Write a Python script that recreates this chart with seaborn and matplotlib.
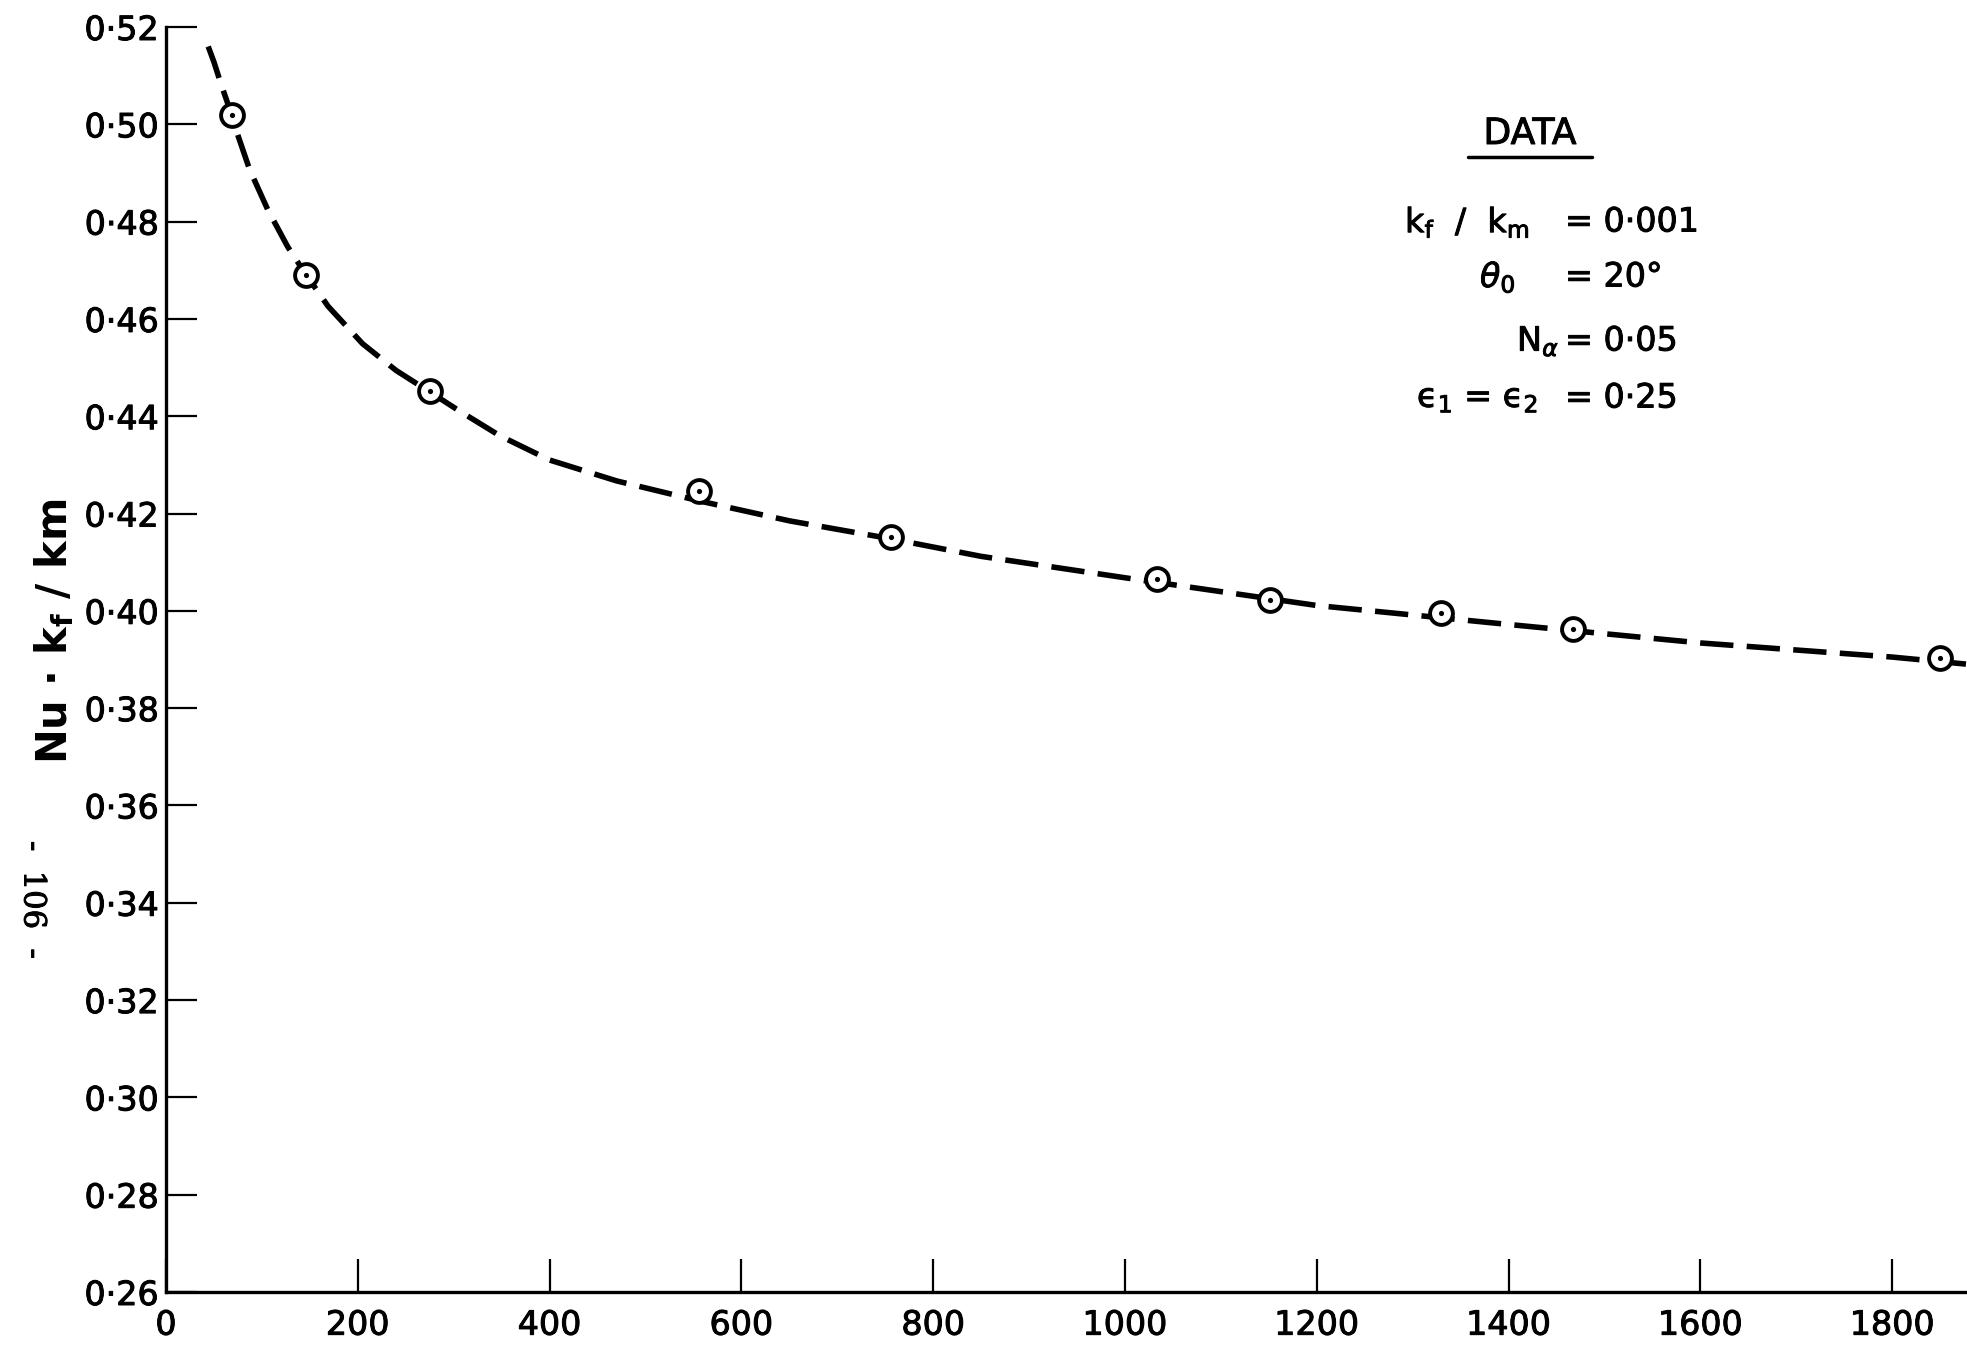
import matplotlib
matplotlib.use('Agg')
import matplotlib.pyplot as plt
import matplotlib.patheffects as pe
import seaborn as sns
import pandas as pd

# measured points (circles)
point_x = [69, 146, 275, 556, 756, 1033, 1151, 1330, 1467, 1850]
point_y = [0.5020, 0.4691, 0.4451, 0.4247, 0.4151, 0.4065, 0.4023, 0.3995, 0.3962, 0.3903]

# dashed curve
curve_x = [44, 50, 57, 64, 69, 74, 87, 106, 127, 146, 169, 205, 240, 275, 305, 348,
           400, 470, 556, 650, 756, 850, 1000, 1200, 1400, 1600, 1800, 1880]
curve_y = [0.5160, 0.5128, 0.5085, 0.5045, 0.5016, 0.4983, 0.4908, 0.4825, 0.4748,
           0.4691, 0.4626, 0.4549, 0.4494, 0.4450, 0.4412, 0.4360, 0.4310, 0.4267,
           0.4226, 0.4185, 0.4148, 0.4112, 0.4068, 0.4011, 0.3972, 0.3934, 0.3905,
           0.3890]

xticks = [0, 200, 400, 600, 800, 1000, 1200, 1400, 1600, 1800]
xtick_labels = ['0', '200', '400', '600', '800', '1000', '1200', '1400', '1600', '1800']
yticks = [0.26, 0.28, 0.30, 0.32, 0.34, 0.36, 0.38, 0.40, 0.42, 0.44, 0.46, 0.48, 0.50, 0.52]
ytick_labels = ['0·26', '0·28', '0·30', '0·32', '0·34', '0·36', '0·38', '0·40',
                '0·42', '0·44', '0·46', '0·48', '0·50', '0·52']

data_left = ['k$_\\mathrm{f}$  /  k$_\\mathrm{m}$', '$\\theta_0$', 'N$_\\alpha$',
             'ϵ$_\\mathrm{1}$ = ϵ$_\\mathrm{2}$']
data_right = ['= 0·001', '= 20°', '= 0·05', '= 0·25']

sns.set_style('ticks')
plt.rcParams['font.family'] = ['DejaVu Sans']
plt.rcParams['mathtext.fontset'] = 'dejavusans'
plt.rcParams['text.color'] = 'black'
plt.rcParams['axes.labelcolor'] = 'black'
plt.rcParams['xtick.color'] = 'black'
plt.rcParams['ytick.color'] = 'black'

heavy = [pe.withStroke(linewidth=0.7, foreground='black')]

W, H = 1967, 1356
fig = plt.figure(figsize=(W / 100, H / 100), dpi=100)
ax = fig.add_axes([166 / W, 64 / H, 1 - 166 / W, (1292 - 27) / H])

curve = pd.DataFrame({'x': curve_x, 'y': curve_y})
points = pd.DataFrame({'x': point_x, 'y': point_y})

sns.lineplot(data=curve, x='x', y='y', color='black', linewidth=4,
             linestyle=(0, (6, 2.4)), ax=ax, clip_on=False)
sns.scatterplot(data=points, x='x', y='y', marker='o', s=270, facecolor='white',
                edgecolor='black', linewidth=2.8, ax=ax, zorder=3, clip_on=False)
sns.scatterplot(data=points, x='x', y='y', marker='o', s=14, color='black',
                linewidth=0, ax=ax, zorder=4, clip_on=False)

ax.set_xlim(0, 1878)
ax.set_ylim(0.26, 0.52)
ax.set_xticks(xticks, labels=xtick_labels)
ax.set_yticks(yticks, labels=ytick_labels)
sns.despine(ax=ax)
for s in ['left', 'bottom']:
    ax.spines[s].set_linewidth(2.4)
    ax.spines[s].set_color('black')
ax.tick_params(axis='y', direction='in', length=22, width=1.6, pad=5, labelsize=24)
ax.tick_params(axis='x', direction='in', length=24, width=1.6, pad=12, labelsize=24)
for lab in ax.get_xticklabels() + ax.get_yticklabels():
    lab.set_path_effects(heavy)

ax.set_xlabel('')
ax.set_ylabel('Nu · k$_\\mathbf{f}$ / km', fontsize=30, fontweight='bold')
ax.yaxis.set_label_coords(-0.050, 0.522)

# page number
fig.text(33 / W, 1 - 900 / H, '-  106  -', rotation=-90, fontsize=22,
         family='DejaVu Serif', ha='center', va='center', path_effects=heavy)

# data box
fig.text(1530 / W, 1 - 134 / H, 'DATA', fontsize=26, ha='center', va='center',
         path_effects=heavy)
fig.add_artist(plt.Line2D([1468 / W, 1592 / W], [1 - 157 / H, 1 - 157 / H],
                          color='black', linewidth=2.5))
left_x = [1405, 1480, 1517, 1417]
rows_y = [222, 277, 341, 398]
for lx, ry, lt, rt in zip(left_x, rows_y, data_left, data_right):
    fig.text(lx / W, 1 - ry / H, lt, fontsize=24, ha='left', va='center',
             path_effects=heavy)
    fig.text(1565 / W, 1 - ry / H, rt, fontsize=24, ha='left', va='center',
             path_effects=heavy)

fig.savefig('out.png', dpi=100)
